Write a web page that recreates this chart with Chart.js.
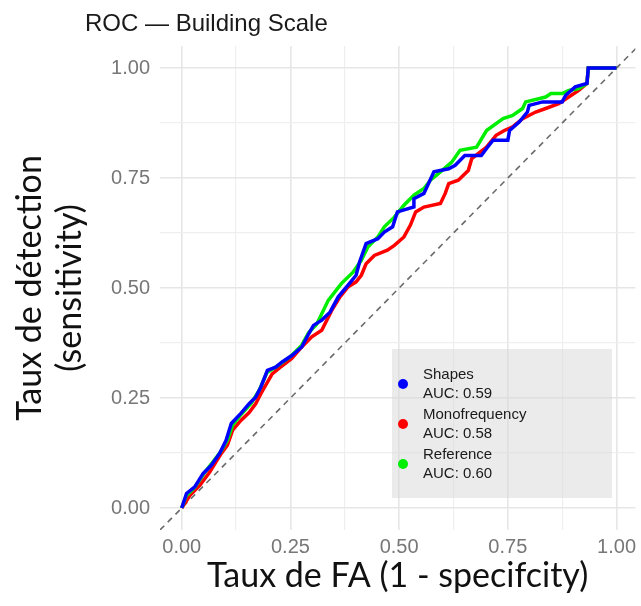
<!DOCTYPE html>
<html>
<head>
<meta charset="utf-8">
<title>ROC — Building Scale</title>
<script src="https://cdn.jsdelivr.net/npm/chart.js@4.4.1/dist/chart.umd.min.js"></script>
<style>
  html, body { margin: 0; padding: 0; background: #fff; }
</style>
</head>
<body>
<canvas id="myChart" width="641" height="606"></canvas>
<script>
// ROC curves (false alarm rate vs detection rate)
const shapesFpr = [0, 0.011, 0.030, 0.049, 0.068, 0.087, 0.102, 0.114, 0.136, 0.155, 0.170, 0.182, 0.197, 0.216, 0.231, 0.254, 0.276, 0.292, 0.303, 0.322, 0.341, 0.360, 0.382, 0.401, 0.409, 0.424, 0.451, 0.466, 0.485, 0.496, 0.534, 0.534, 0.557, 0.580, 0.614, 0.629, 0.651, 0.689, 0.701, 0.716, 0.750, 0.754, 0.776, 0.795, 0.799, 0.830, 0.875, 0.883, 0.905, 0.932, 0.935, 1.0];
const shapesTpr = [0, 0.033, 0.048, 0.078, 0.097, 0.124, 0.154, 0.192, 0.215, 0.237, 0.252, 0.275, 0.313, 0.320, 0.332, 0.347, 0.366, 0.396, 0.415, 0.427, 0.445, 0.480, 0.506, 0.529, 0.559, 0.601, 0.612, 0.627, 0.639, 0.673, 0.684, 0.703, 0.715, 0.764, 0.771, 0.779, 0.801, 0.801, 0.817, 0.836, 0.836, 0.858, 0.877, 0.900, 0.915, 0.923, 0.923, 0.938, 0.957, 0.965, 1.0, 1.0];

const monoFpr = [0, 0.019, 0.042, 0.064, 0.091, 0.105, 0.117, 0.136, 0.155, 0.170, 0.182, 0.208, 0.227, 0.253, 0.276, 0.299, 0.322, 0.345, 0.364, 0.382, 0.401, 0.413, 0.424, 0.443, 0.473, 0.489, 0.511, 0.526, 0.538, 0.557, 0.595, 0.606, 0.614, 0.636, 0.659, 0.667, 0.701, 0.723, 0.742, 0.761, 0.784, 0.814, 0.837, 0.867, 0.890, 0.913, 0.932, 0.935, 1.0];
const monoTpr = [0, 0.029, 0.052, 0.081, 0.124, 0.143, 0.177, 0.199, 0.217, 0.237, 0.260, 0.305, 0.320, 0.340, 0.366, 0.389, 0.404, 0.449, 0.480, 0.502, 0.514, 0.529, 0.555, 0.574, 0.586, 0.597, 0.616, 0.643, 0.673, 0.684, 0.692, 0.715, 0.737, 0.745, 0.767, 0.794, 0.820, 0.847, 0.858, 0.866, 0.885, 0.900, 0.908, 0.919, 0.934, 0.949, 0.965, 1.0, 1.0];

const refFpr = [0, 0.010, 0.030, 0.053, 0.071, 0.089, 0.105, 0.117, 0.137, 0.160, 0.178, 0.196, 0.219, 0.251, 0.276, 0.292, 0.310, 0.337, 0.367, 0.394, 0.413, 0.428, 0.451, 0.466, 0.489, 0.511, 0.534, 0.557, 0.572, 0.595, 0.621, 0.640, 0.678, 0.701, 0.739, 0.761, 0.784, 0.791, 0.837, 0.849, 0.875, 0.890, 0.913, 0.932, 0.935, 1.0];
const refTpr = [0, 0.027, 0.047, 0.081, 0.104, 0.127, 0.154, 0.188, 0.213, 0.238, 0.267, 0.308, 0.322, 0.345, 0.370, 0.399, 0.417, 0.472, 0.510, 0.536, 0.563, 0.593, 0.616, 0.639, 0.661, 0.688, 0.711, 0.726, 0.745, 0.764, 0.786, 0.813, 0.820, 0.858, 0.885, 0.892, 0.908, 0.923, 0.934, 0.942, 0.942, 0.949, 0.953, 0.965, 1.0, 1.0];

const seriesNames = ['Shapes', 'Monofrequency', 'Reference'];
const aucValues = ['0.59', '0.58', '0.60'];
const seriesColors = ['#0000ff', '#ff0000', '#00ee00'];
const diagLine = [-0.05, 1.05];
const tickValues = [0, 0.125, 0.25, 0.375, 0.5, 0.625, 0.75, 0.875, 1];
const titleText = 'ROC — Building Scale';

function toPoints(xs, ys) {
  return xs.map((x, i) => ({ x: x, y: ys[i] }));
}

function isMajor(v) {
  return Math.abs(v * 4 - Math.round(v * 4)) < 1e-6;
}

// title and inset legend, drawn on top of the plot
const overlay = {
  id: 'overlay',
  afterDraw(chart) {
    const c = chart.ctx;
    c.save();
    c.fillStyle = '#1a1a1a';
    c.font = '24px "Liberation Sans", Arial, sans-serif';
    c.textBaseline = 'alphabetic';
    c.textAlign = 'left';
    c.fillText(titleText, 85, 31);

    c.fillStyle = 'rgba(215,215,215,0.5)';
    c.fillRect(392, 349, 220, 149);

    c.font = '15px "Liberation Sans", Arial, sans-serif';
    c.textBaseline = 'middle';
    for (let i = 0; i < seriesNames.length; i++) {
      const y0 = 375 + i * 40;
      c.fillStyle = seriesColors[i];
      c.beginPath();
      c.arc(403, y0 + 9, 5, 0, Math.PI * 2);
      c.fill();
      c.fillStyle = '#1a1a1a';
      c.fillText(seriesNames[i], 423, y0);
      c.fillText('AUC: ' + aucValues[i], 423, y0 + 18.5);
    }
    c.restore();
  }
};

const ctx = document.getElementById('myChart').getContext('2d');
new Chart(ctx, {
  type: 'line',
  data: {
    datasets: [
      {
        label: seriesNames[0],
        data: toPoints(shapesFpr, shapesTpr),
        borderColor: seriesColors[0],
        borderWidth: 3.5,
        pointRadius: 0
      },
      {
        label: seriesNames[2],
        data: toPoints(refFpr, refTpr),
        borderColor: seriesColors[2],
        borderWidth: 3.5,
        pointRadius: 0
      },
      {
        label: seriesNames[1],
        data: toPoints(monoFpr, monoTpr),
        borderColor: seriesColors[1],
        borderWidth: 3.5,
        pointRadius: 0
      },
      {
        label: 'chance',
        data: toPoints(diagLine, diagLine),
        borderColor: '#6b6b6b',
        borderWidth: 1.6,
        borderDash: [6, 5],
        pointRadius: 0
      }
    ]
  },
  options: {
    responsive: false,
    animation: false,
    layout: { padding: { top: 46, left: 0, right: 0, bottom: 0 } },
    plugins: {
      legend: { display: false },
      tooltip: { enabled: false }
    },
    scales: {
      x: {
        type: 'linear',
        min: -0.05,
        max: 1.0432,
        afterFit: (s) => { s.height = 76; },
        afterBuildTicks: (s) => { s.ticks = tickValues.map(v => ({ value: v })); },
        border: { display: false },
        grid: {
          drawTicks: false,
          color: (c) => (c.tick && isMajor(c.tick.value)) ? '#e6e6e6' : '#efefef',
          lineWidth: (c) => (c.tick && isMajor(c.tick.value)) ? 1.6 : 1.2
        },
        ticks: {
          padding: 5,
          color: '#777777',
          font: { family: '"Liberation Sans", Arial, sans-serif', size: 20 },
          callback: (v) => isMajor(v) ? v.toFixed(2) : ''
        },
        title: {
          display: true,
          text: 'Taux de FA (1 - specifcity)',
          color: '#111111',
          font: { family: 'Lato, sans-serif', size: 34, lineHeight: 1.2 },
          padding: { top: 0, bottom: 10 }
        }
      },
      y: {
        type: 'linear',
        min: -0.05,
        max: 1.05,
        afterFit: (s) => { s.width = 160; },
        afterBuildTicks: (s) => { s.ticks = tickValues.map(v => ({ value: v })); },
        border: { display: false },
        grid: {
          drawTicks: false,
          color: (c) => (c.tick && isMajor(c.tick.value)) ? '#e6e6e6' : '#efefef',
          lineWidth: (c) => (c.tick && isMajor(c.tick.value)) ? 1.6 : 1.2
        },
        ticks: {
          padding: 10,
          color: '#777777',
          font: { family: '"Liberation Sans", Arial, sans-serif', size: 20 },
          callback: (v) => isMajor(v) ? v.toFixed(2) : ''
        },
        title: {
          display: true,
          text: ['Taux de détection', '(sensitivity)'],
          color: '#111111',
          font: { family: 'Lato, sans-serif', size: 34, lineHeight: 1.18 },
          padding: { top: 10, bottom: 0 }
        }
      }
    }
  },
  plugins: [overlay]
});
</script>
</body>
</html>
